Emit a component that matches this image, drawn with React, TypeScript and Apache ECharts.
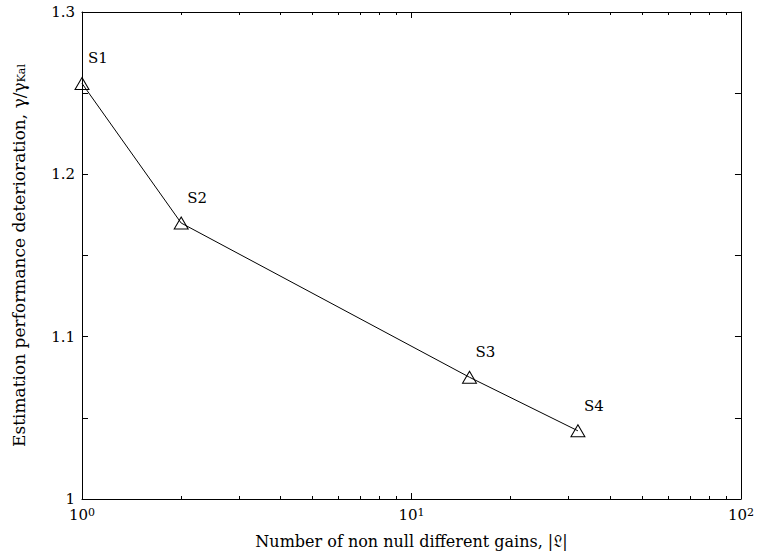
import React, { useEffect, useRef } from "react";
import * as echarts from "echarts";

const xValues = [1, 2, 15, 32];
const yValues = [1.256, 1.17, 1.075, 1.042];
const pointLabels = ["S1", "S2", "S3", "S4"];
const yLabelValues = ["1", "1.1", "1.2", "1.3"];
const xMinorTicks = [2, 3, 4, 5, 6, 7, 8, 9, 20, 30, 40, 50, 60, 70, 80, 90];
const xTitle = "Number of non null different gains, |\u{1D50F}|";
const yTitleMain = "Estimation performance deterioration, γ/γ";
const yTitleSub = "Kal";

const FONT = "DejaVu Serif";

export default function App() {
  const ref = useRef<HTMLDivElement>(null);
  useEffect(() => {
    if (!ref.current) return;
    const chart = echarts.init(ref.current, undefined, { renderer: "svg" });
    const black = "#000";
    const baseX = {
      type: "log" as const,
      logBase: 10,
      min: 1,
      max: 100,
      gridIndex: 0,
      splitLine: { show: false },
      minorSplitLine: { show: false },
    };
    const baseY = {
      type: "value" as const,
      min: 1,
      max: 1.3,
      interval: 0.05,
      splitLine: { show: false },
    };
    chart.setOption({
      animation: false,
      backgroundColor: "#fff",
      textStyle: { fontFamily: FONT },
      grid: { left: 82, right: 16, top: 12, bottom: 57, containLabel: false },
      xAxis: [
        {
          ...baseX,
          position: "bottom",
          axisLine: { show: true, lineStyle: { color: black, width: 1 } },
          axisTick: { show: true, inside: true, length: 6, lineStyle: { color: black } },
          axisLabel: {
            show: true,
            margin: 8,
            formatter: (v: number) => `{b|10}{s|${Math.round(Math.log10(v))}}`,
            rich: {
              b: { fontFamily: FONT, fontSize: 15, color: black },
              s: { fontFamily: FONT, fontSize: 11, color: black, verticalAlign: "top", padding: [0, 0, 4, 0] },
            },
          },
          name: xTitle,
          nameLocation: "middle",
          nameGap: 34,
          nameTextStyle: { fontFamily: FONT, fontSize: 16, color: black },
        },
        {
          ...baseX,
          position: "bottom",
          axisLine: { show: false },
          axisTick: { show: true, inside: true, length: 3, customValues: xMinorTicks, lineStyle: { color: black } },
          axisLabel: { show: false },
        },
        {
          ...baseX,
          position: "top",
          axisLine: { show: true, lineStyle: { color: black, width: 1 } },
          axisTick: { show: true, inside: true, length: 6, lineStyle: { color: black } },
          axisLabel: { show: false },
        },
        {
          ...baseX,
          position: "top",
          axisLine: { show: false },
          axisTick: { show: true, inside: true, length: 3, customValues: xMinorTicks, lineStyle: { color: black } },
          axisLabel: { show: false },
        },
      ],
      yAxis: [
        {
          ...baseY,
          position: "left",
          axisLine: { show: true, lineStyle: { color: black, width: 1 } },
          axisTick: { show: true, inside: true, length: 6, lineStyle: { color: black } },
          axisLabel: {
            show: true,
            margin: 7,
            fontFamily: FONT,
            fontSize: 15,
            color: black,
            formatter: (v: number) => {
              const k = Math.round(v * 100);
              if (k % 10 !== 0) return "";
              return yLabelValues[(k - 100) / 10] ?? "";
            },
          },
          name: `{a|${yTitleMain}}{sub|${yTitleSub}}`,
          nameLocation: "middle",
          nameGap: 55,
          nameTextStyle: {
            fontFamily: FONT,
            rich: {
              a: { fontFamily: FONT, fontSize: 17, color: black },
              sub: { fontFamily: FONT, fontSize: 11, color: black, verticalAlign: "bottom" },
            },
          },
        },
        {
          ...baseY,
          position: "right",
          axisLine: { show: true, lineStyle: { color: black, width: 1 } },
          axisTick: { show: true, inside: true, length: 6, lineStyle: { color: black } },
          axisLabel: { show: false },
        },
      ],
      series: [
        {
          type: "line",
          xAxisIndex: 0,
          yAxisIndex: 0,
          data: xValues.map((x, i) => [x, yValues[i]]),
          symbol: "triangle",
          symbolSize: [14, 12],
          clip: false,
          lineStyle: { color: black, width: 1 },
          itemStyle: { color: "rgba(255,255,255,0)", borderColor: black, borderWidth: 1 },
          label: {
            show: true,
            position: "top",
            distance: 5,
            offset: [16, -6],
            formatter: (p: any) => pointLabels[p.dataIndex],
            fontFamily: FONT,
            fontSize: 15,
            color: black,
          },
          emphasis: { disabled: true },
        },
      ],
    });
    return () => chart.dispose();
  }, []);
  return (
    <div
      ref={ref}
      style={{ position: "fixed", left: 0, top: 0, width: 757, height: 556 }}
    />
  );
}
